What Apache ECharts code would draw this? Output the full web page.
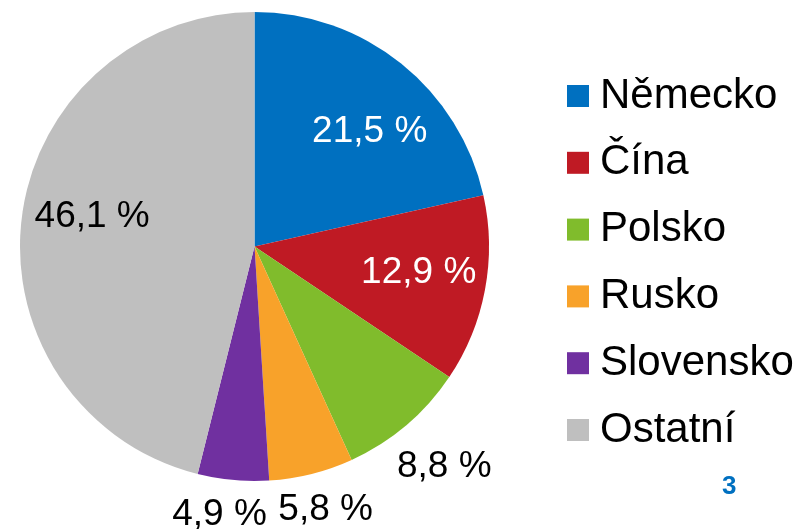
<!DOCTYPE html>
<html>
<head>
<meta charset="utf-8">
<script src="https://cdn.jsdelivr.net/npm/echarts@6/dist/echarts.min.js"></script>
<style>
  html, body { margin: 0; padding: 0; background: #fff; }
  #chart { width: 799px; height: 529px; }
</style>
</head>
<body>
<div id="chart"></div>
<script>
// data
const countries = ['Německo', 'Čína', 'Polsko', 'Rusko', 'Slovensko', 'Ostatní'];
const shares = [21.5, 12.9, 8.8, 5.8, 4.9, 46.1];
const colors = ['#0070C0', '#BF1A24', '#80BC2C', '#F8A22A', '#7030A0', '#BFBFBF'];

// label styling per slice (white inside on dark slices, black elsewhere)
const labelColors = ['#fff', '#fff', '#000', '#000', '#000', '#000'];
const labelOffsets = [[40, -21], [46, 4], [112, 129], [42, 147], [-24, 149], [-43, -15]];

const chart = echarts.init(document.getElementById('chart'));

const pieData = countries.map((name, i) => ({
  name: name,
  value: shares[i],
  itemStyle: { color: colors[i] },
  label: { color: labelColors[i], offset: labelOffsets[i] }
}));

chart.setOption({
  animation: false,
  title: {
    text: '3',
    left: 722,
    top: 474,
    padding: 0,
    textStyle: {
      fontFamily: 'Liberation Sans',
      fontSize: 26,
      fontWeight: 'bold',
      color: '#0070C0'
    }
  },
  legend: {
    orient: 'vertical',
    left: 567,
    top: 74,
    padding: 0,
    itemWidth: 22,
    itemHeight: 22,
    itemGap: 22.8,
    icon: 'rect',
    selectedMode: false,
    textStyle: {
      fontFamily: 'Liberation Sans',
      fontSize: 42,
      lineHeight: 44,
      color: '#000',
      padding: [0, 0, 0, 6]
    },
    data: countries
  },
  series: [
    {
      type: 'pie',
      center: [254.5, 246.5],
      radius: 234.5,
      startAngle: 90,
      clockwise: true,
      avoidLabelOverlap: false,
      itemStyle: { borderWidth: 0 },
      label: {
        show: true,
        position: 'inside',
        fontFamily: 'Liberation Sans',
        fontSize: 37,
        formatter: p => p.value.toFixed(1).replace('.', ',') + ' %'
      },
      labelLine: { show: false },
      emphasis: { disabled: true },
      data: pieData
    }
  ]
});
</script>
</body>
</html>
